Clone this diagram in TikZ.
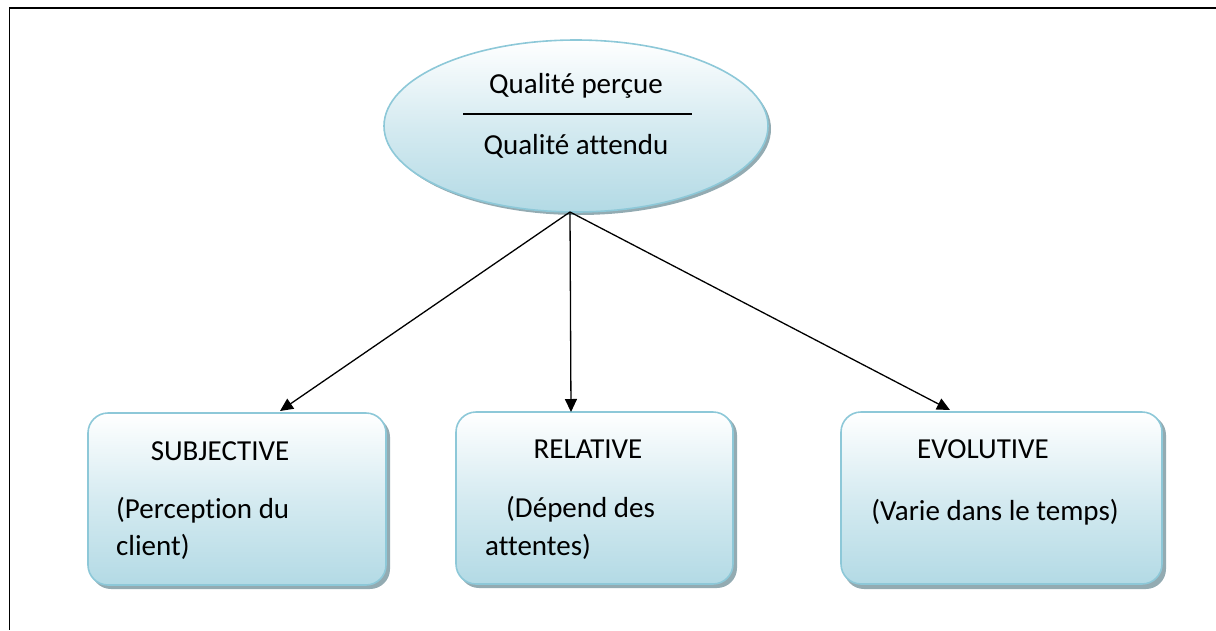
\documentclass[tikz,border=0pt]{standalone}
\usepackage{fontspec}
\setmainfont[Ligatures={NoCommon}]{Carlito}
\usetikzlibrary{arrows.meta,shapes.geometric}
\definecolor{edgeblue}{HTML}{8DC8D8}
\definecolor{fillblue}{HTML}{B3DAE5}
\definecolor{shadowgray}{HTML}{93ABB2}
\tikzset{
  shapebox/.style={draw=edgeblue, line width=1.6pt, top color=white, bottom color=fillblue, middle color=fillblue!55},
  boxshape/.style={shapebox, rounded corners=20pt, minimum width=#1, minimum height=172pt, inner sep=0pt},
  ovalshape/.style={shapebox, ellipse, minimum width=384pt, minimum height=172pt, inner sep=0pt},
  txt/.style={font=\fontsize{29}{34}\selectfont, inner sep=0pt},
  conn/.style={line width=1.3pt, -{Triangle[length=13pt,width=12pt]}}
}
\begin{document}
\begin{tikzpicture}[x=1pt,y=-1pt]
\useasboundingbox (0,0) rectangle (1216,630);
% frame (top and left)
\draw[line width=1.5pt] (1216,8) -- (9.5,8) -- (9.5,630);

% ellipse shadow + ellipse
\fill[shadowgray] (579,129) ellipse [x radius=192, y radius=86];
\node[ovalshape] (top) at (576,126) {};
\node[txt] (tq1) at (576,86) {Qualité perçue};
\draw[line width=1.2pt] (463,114) -- (692,114);
\node[txt] (tq2) at (576,146) {Qualité attendu};
\coordinate (src) at (570,212);

% boxes
\fill[shadowgray, rounded corners=20pt] (91,417) rectangle (390,589);
\fill[shadowgray, rounded corners=20pt] (459,415) rectangle (737,588);
\fill[shadowgray, rounded corners=20pt] (844,415) rectangle (1166,589);
\node[boxshape=298pt] (b1) at (237,499) {};
\node[boxshape=277pt] (b2) at (594.5,498) {};
\node[boxshape=321pt] (b3) at (1001.5,498) {};

\node[txt] (t1a) at (220,451) {SUBJECTIVE};
\node[txt, anchor=west] (t1b) at (116,510) {(Perception du};
\node[txt, anchor=west] (t1c) at (116,547) {client)};

\node[txt] (t2a) at (588,449) {RELATIVE};
\node[txt, anchor=west] (t2b) at (506,509) {(Dépend des};
\node[txt, anchor=west] (t2c) at (485,547) {attentes)};

\node[txt] (t3a) at (983,449) {EVOLUTIVE};
\node[txt] (t3b) at (995,512) {(Varie dans le temps)};

% connectors
\coordinate (e1) at (280,411);
\coordinate (e2) at (571,412);
\coordinate (e3) at (950,410);
\draw[conn] (src) -- (e1);
\draw[conn] (src) -- (e2);
\draw[conn] (src) -- (e3);
\end{tikzpicture}
\end{document}
